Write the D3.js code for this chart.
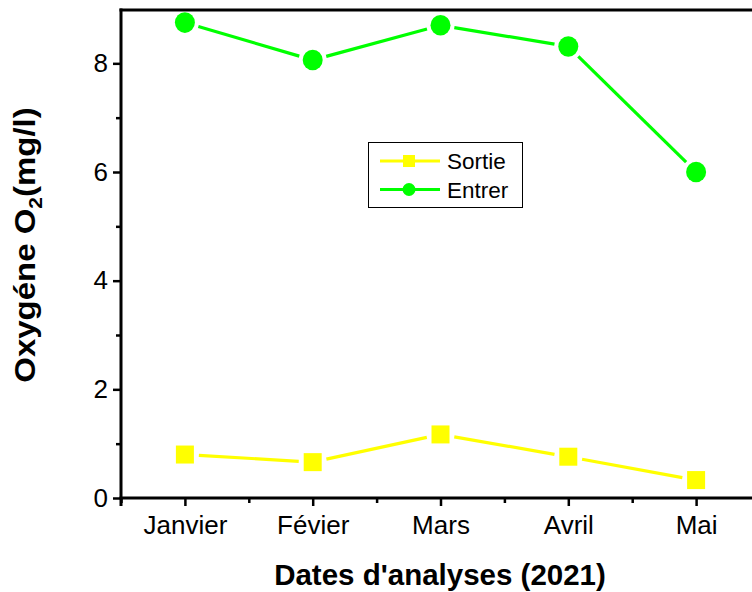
<!DOCTYPE html>
<html>
<head>
<meta charset="utf-8">
<script src="https://cdn.jsdelivr.net/npm/d3@7"></script>
<style>
  html, body { margin: 0; padding: 0; background: #fff; }
  svg { display: block; font-family: "Liberation Sans", Arial, sans-serif; }
</style>
</head>
<body>
<svg id="chart" width="752" height="592"></svg>
<script>
// Dissolved oxygen measured at inlet and outlet, Jan–May 2021
const months = ["Janvier", "Févier", "Mars", "Avril", "Mai"];
const sortie = [0.80, 0.66, 1.17, 0.76, 0.33];
const entrer = [8.75, 8.06, 8.70, 8.31, 6.00];
const yMajorTicks = [0, 2, 4, 6, 8];
const yMinorTicks = [1, 3, 5, 7];

const svg = d3.select("#chart");
const plotLeft = 121, plotTop = 9, plotBottom = 498, plotRight = 760;

const x = d3.scaleLinear().domain([0.5, 5.5]).range([plotLeft, plotRight]);
const y = d3.scaleLinear().domain([0, 9]).range([plotBottom, plotTop]);

const axisColor = "#000";

// frame: top border
svg.append("line")
  .attr("x1", plotLeft - 1.5).attr("x2", 752)
  .attr("y1", plotTop + 1).attr("y2", plotTop + 1)
  .attr("stroke", axisColor).attr("stroke-width", 3);

// y axis – major ticks with labels
const yAxis = svg.append("g").attr("transform", `translate(${plotLeft},0)`)
  .call(d3.axisLeft(y).tickValues(yMajorTicks).tickSize(8).tickSizeOuter(0).tickPadding(5));
// y axis – minor ticks
const yMinor = svg.append("g").attr("transform", `translate(${plotLeft},0)`)
  .call(d3.axisLeft(y).tickValues(yMinorTicks).tickSize(5).tickFormat(""));
yMinor.select(".domain").remove();

// x axis – major ticks with month names
const xAxis = svg.append("g").attr("transform", `translate(0,${plotBottom})`)
  .call(d3.axisBottom(x).tickValues([1, 2, 3, 4, 5]).tickSize(8).tickSizeOuter(0)
    .tickPadding(10).tickFormat(d => months[d - 1]));
// x axis – minor ticks
const xMinor = svg.append("g").attr("transform", `translate(0,${plotBottom})`)
  .call(d3.axisBottom(x).tickValues([0.5, 1.5, 2.5, 3.5, 4.5, 5.5]).tickSize(5).tickFormat(""));
xMinor.select(".domain").remove();

[yAxis, yMinor, xAxis, xMinor].forEach(g => {
  g.selectAll(".domain").attr("stroke", axisColor).attr("stroke-width", 3);
  g.selectAll(".tick line").attr("stroke", axisColor).attr("stroke-width", 2.5);
  g.selectAll(".tick text").attr("fill", "#000").attr("font-size", 26)
    .attr("font-family", "Liberation Sans, Arial, sans-serif");
});
// extend y spine to cover the corner
yAxis.select(".domain").attr("d", `M0,${plotTop - 0.5}V${plotBottom + 8}`);
xAxis.select(".domain").attr("d", `M${plotLeft - 1.5},0H752`);

// axis titles
svg.append("text")
  .attr("x", 440).attr("y", 585)
  .attr("text-anchor", "middle")
  .attr("font-size", 29.5).attr("font-weight", "bold")
  .text("Dates d'analyses (2021)");

const yt = svg.append("text")
  .attr("transform", "translate(35,245) rotate(-90) scale(1.1,1)")
  .attr("text-anchor", "middle")
  .attr("font-size", 30).attr("font-weight", "bold");
yt.append("tspan").text("Oxygéne O");
yt.append("tspan").attr("font-size", 19).attr("dy", 7).text("2");
yt.append("tspan").attr("dy", -7).text("(mg/l)");

// series lines drawn as segments with small gaps around the markers
function gappedSegments(values, gap) {
  const pts = values.map((v, i) => [x(i + 1), y(v)]);
  const segs = [];
  for (let i = 0; i < pts.length - 1; i++) {
    const [x1, y1] = pts[i], [x2, y2] = pts[i + 1];
    const len = Math.hypot(x2 - x1, y2 - y1);
    const ux = (x2 - x1) / len, uy = (y2 - y1) / len;
    segs.push([x1 + ux * gap, y1 + uy * gap, x2 - ux * gap, y2 - uy * gap]);
  }
  return segs;
}

const series = [
  { name: "Sortie", values: sortie, color: "#ffff00", shape: "square" },
  { name: "Entrer", values: entrer, color: "#00ff00", shape: "circle" }
];

series.forEach(s => {
  const g = svg.append("g");
  g.selectAll("line").data(gappedSegments(s.values, 14)).join("line")
    .attr("x1", d => d[0]).attr("y1", d => d[1])
    .attr("x2", d => d[2]).attr("y2", d => d[3])
    .attr("stroke", s.color).attr("stroke-width", 3.2);
  if (s.shape === "square") {
    g.selectAll("rect").data(s.values).join("rect")
      .attr("x", (d, i) => x(i + 1) - 9).attr("y", d => y(d) - 9)
      .attr("width", 18).attr("height", 18)
      .attr("fill", s.color);
  } else {
    g.selectAll("ellipse").data(s.values).join("ellipse")
      .attr("cx", (d, i) => x(i + 1)).attr("cy", d => y(d))
      .attr("rx", 10).attr("ry", 10.3)
      .attr("fill", s.color);
  }
});

// legend
const lg = svg.append("g");
lg.append("rect")
  .attr("x", 368.5).attr("y", 142.5).attr("width", 154).attr("height", 65)
  .attr("fill", "#fff").attr("stroke", "#000").attr("stroke-width", 1);
series.forEach((s, i) => {
  const cy = 161 + i * 28.5;
  lg.append("line").attr("x1", 380).attr("x2", 440).attr("y1", cy).attr("y2", cy)
    .attr("stroke", s.color).attr("stroke-width", 3.2);
  if (s.shape === "square") {
    lg.append("rect").attr("x", 403).attr("y", cy - 6).attr("width", 12).attr("height", 12)
      .attr("fill", s.color);
  } else {
    lg.append("circle").attr("cx", 409).attr("cy", cy).attr("r", 6.5).attr("fill", s.color);
  }
  lg.append("text").attr("x", 447).attr("y", cy + 8)
    .attr("font-size", 22.5).attr("fill", "#000").text(s.name);
});
</script>
</body>
</html>
